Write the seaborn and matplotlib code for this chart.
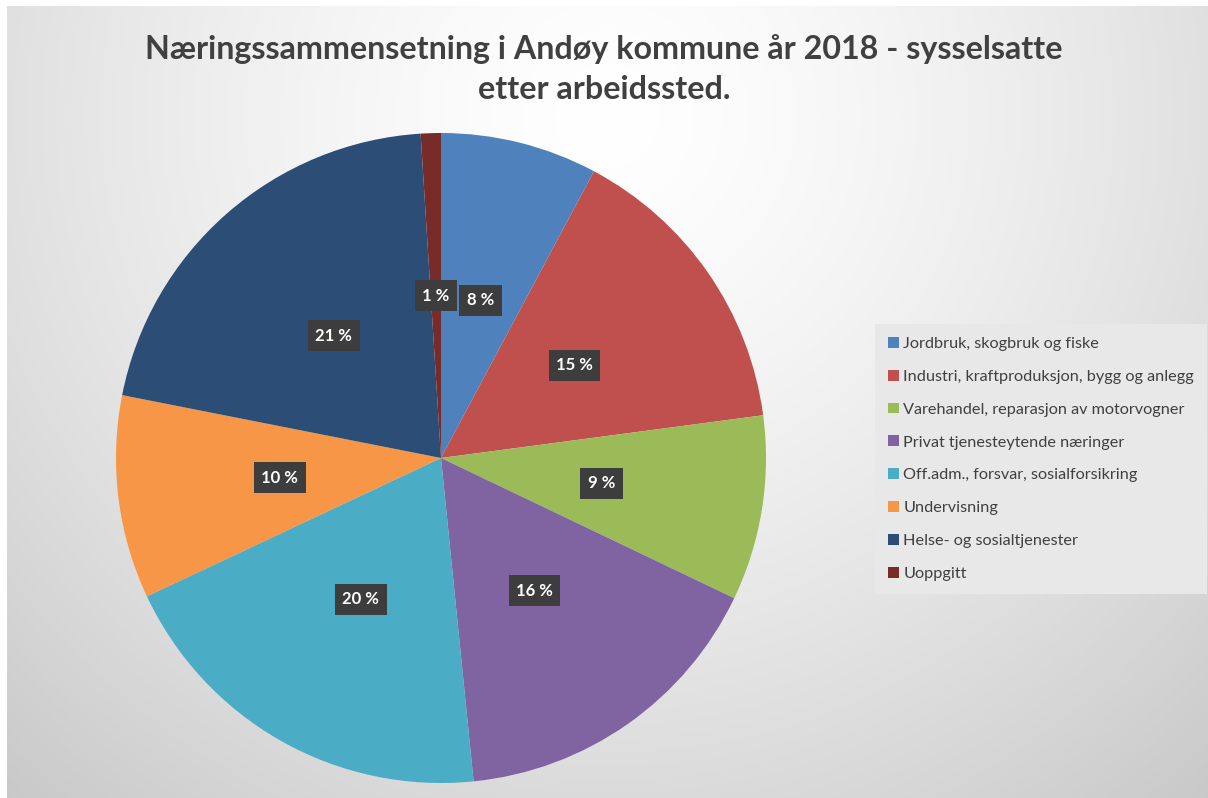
import numpy as np
import matplotlib
matplotlib.use("Agg")
import matplotlib.pyplot as plt
import seaborn as sns

# ---- data ----
categories = [
    "Jordbruk, skogbruk og fiske",
    "Industri, kraftproduksjon, bygg og anlegg",
    "Varehandel, reparasjon av motorvogner",
    "Privat tjenesteytende næringer",
    "Off.adm., forsvar, sosialforsikring",
    "Undervisning",
    "Helse- og sosialtjenester",
    "Uoppgitt",
]
shares = [7.8, 15.1, 9.2, 16.3, 19.6, 10.1, 20.9, 1.0]
colors = ["#4F81BD", "#C0504D", "#9BBB59", "#8064A2",
          "#4BACC6", "#F79646", "#2C4D75", "#772C2A"]
title = "Næringssammensetning i Andøy kommune år 2018 - sysselsatte\netter arbeidssted."

sns.set_theme(style="white")
plt.rcParams["font.family"] = ["Lato", "DejaVu Sans"]

W, H = 1208, 798
fig = plt.figure(figsize=(W / 100, H / 100), dpi=100)
fig.patch.set_facecolor("white")

# background radial gradient panel
bg = fig.add_axes([7 / W, 0, 1 - 7 / W, 1 - 6 / H])
bw, bh = W - 7, H - 6
yy, xx = np.mgrid[0:bh, 0:bw]
r = np.hypot(xx - 600, yy - 110)
g = 255 - 31 * (r / 608) ** 1.4
g = np.clip(g, 190, 255) / 255.0
bg.imshow(np.dstack([g, g, g]), aspect="auto", interpolation="bilinear")
bg.set_axis_off()
bg.set_zorder(-10)

# pie axes
cx, cy, R = 441, 458, 325
ax = fig.add_axes([(cx - R) / W, (H - cy - R) / H, 2 * R / W, 2 * R / H])
ax.patch.set_alpha(0)
wedges, texts, autotexts = ax.pie(
    shares,
    colors=sns.color_palette(colors),
    startangle=90,
    counterclock=False,
    autopct=lambda p: f"{p:.0f} %",
    pctdistance=0.5,
    wedgeprops=dict(linewidth=0, edgecolor="none"),
    textprops=dict(color="white", fontsize=12, fontweight="bold"),
)
for t in autotexts:
    t.set_bbox(dict(boxstyle="square,pad=0.45", facecolor="#3d3d3d",
                    edgecolor="none"))
ax.set_xlim(-1, 1)
ax.set_ylim(-1, 1)
ax.set_aspect("equal")

fig.text(604 / W, 1 - 69 / H, title, ha="center", va="center",
         fontsize=23.2, fontweight="bold", color="#404040",
         linespacing=1.45)

leg = ax.legend(
    wedges, categories,
    loc="upper left",
    bbox_to_anchor=(875 / W, 1 - 324 / H),
    bbox_transform=fig.transFigure,
    borderaxespad=0,
    frameon=True,
    fancybox=False,
    facecolor="#e8e8e8",
    edgecolor="none",
    framealpha=1,
    fontsize=11.7,
    handlelength=0.65,
    handleheight=0.65,
    handletextpad=0.3,
    labelspacing=1.15,
    borderpad=0.8,
)
for txt in leg.get_texts():
    txt.set_color("#404040")

fig.savefig("out.png", dpi=100)
